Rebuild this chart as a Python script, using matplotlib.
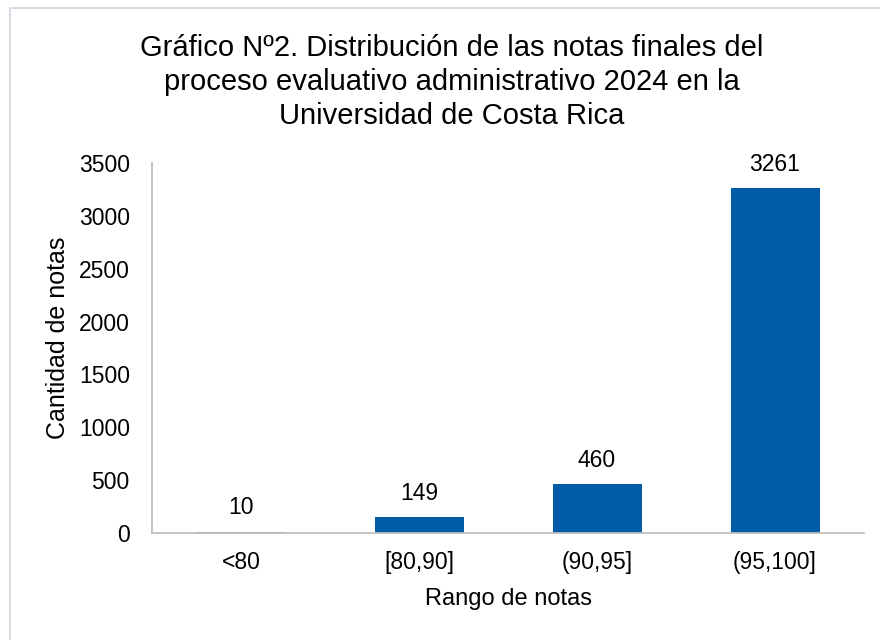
import matplotlib
matplotlib.use("Agg")
import matplotlib.pyplot as plt
from matplotlib.patches import Rectangle

categories = ["<80", "[80,90]", "(90,95]", "(95,100]"]
values = [10, 149, 460, 3261]
yticks = [0, 500, 1000, 1500, 2000, 2500, 3000, 3500]
title = "Gráfico Nº2. Distribución de las notas finales del\nproceso evaluativo administrativo 2024 en la\nUniversidad de Costa Rica"

plt.rcParams['font.family'] = ['Liberation Sans', 'DejaVu Sans']

fig = plt.figure(figsize=(8.8, 6.4), dpi=100)
fig.patches.append(Rectangle((10/880, -0.1), 1.2, 1 - 8/640 + 0.1, transform=fig.transFigure,
                             fill=False, edgecolor="#D9DDE3", linewidth=1.5))
ax = fig.add_axes([152/880, 1 - 533/640, (864 - 152)/880, (533 - 163)/640])
x = range(len(categories))
bars = ax.bar(x, values, width=0.5, color="#005CA6")
for xi, v in zip(x, values):
    ax.annotate(str(v), (xi, v), xytext=(0, 9), textcoords="offset points",
                ha="center", va="bottom", fontsize=16.5, color="#000000")
ax.set_xlim(-0.5, len(categories) - 0.5)
ax.set_ylim(0, 3500)
ax.set_yticks(yticks)
ax.set_xticks(list(x))
ax.set_xticklabels(categories)
ax.tick_params(axis="y", length=0, labelsize=16.5, pad=16)
ax.tick_params(axis="x", length=0, labelsize=16.5, pad=13)
for s in ["top", "right"]:
    ax.spines[s].set_visible(False)
for s in ["left", "bottom"]:
    ax.spines[s].set_color("#BFBFBF")
    ax.spines[s].set_linewidth(1.3)
ax.set_xlabel("Rango de notas", fontsize=17, labelpad=10)
ax.set_ylabel("Cantidad de notas", fontsize=18)
ax.yaxis.set_label_coords((70 - 152) / (864 - 152), 0.527)
fig.text(452/880, 1 - 82/640, title, ha="center", va="center", fontsize=21, linespacing=1.28)
fig.savefig("out.png", dpi=100)
